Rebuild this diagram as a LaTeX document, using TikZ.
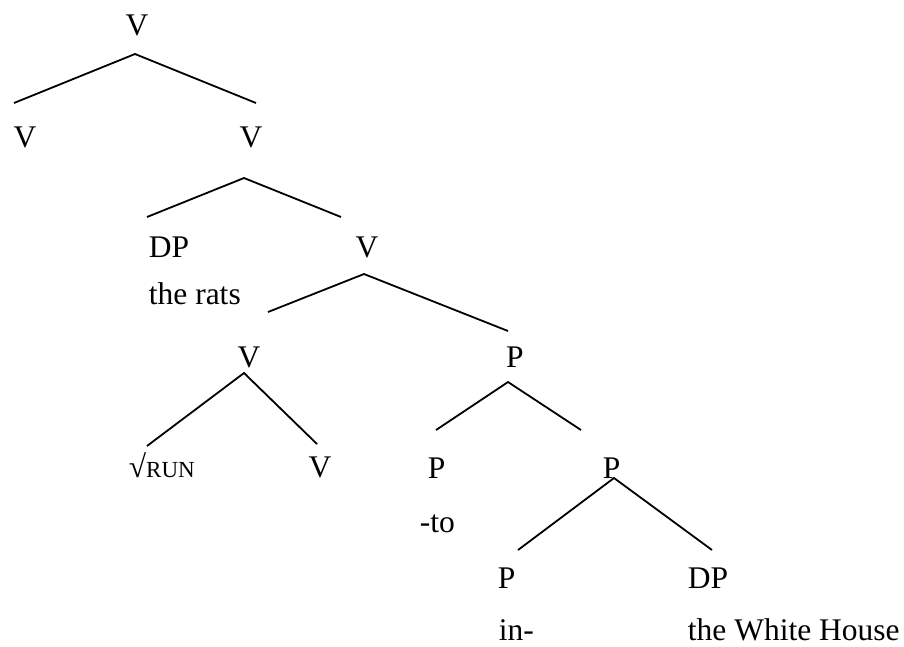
\documentclass[tikz,border=0pt]{standalone}
\usepackage{fontspec}
\setmainfont{Liberation Serif}
\usepackage{xcolor}
\definecolor{treeink}{HTML}{000000}

\begin{document}
\begin{tikzpicture}[x=1pt,y=-1pt,
  point/.style={coordinate},
  cat/.style={inner sep=0pt, anchor=base, text=treeink, font=\fontsize{31.5}{38}\selectfont},
  word/.style={cat, anchor=base west},
  every path/.style={draw=treeink, line width=1.8pt}]
\useasboundingbox[draw=none] (0,0) rectangle (904,646);
% labels
\node[cat]  (v0) at (137,35)   {V};
\node[cat]  (v1) at (25,147)   {V};
\node[cat]  (v2) at (251,147)  {V};
\node[word] (dp1) at (148,257) {DP};
\node[cat]  (v3) at (367,257)  {V};
\node[word] (rats) at (148,304) {the rats};
\node[cat]  (v4) at (249,367)  {V};
\node[cat]  (p1) at (515,367)  {P};
\node[word] (run) at (128,477) {√{\fontsize{23}{28}\selectfont RUN}};
\node[cat]  (v5) at (320,477)  {V};
\node[word] (p2) at (427,478)  {P};
\node[word] (p3) at (602,478)  {P};
\node[word] (to) at (419,532)  {-to};
\node[word] (p4) at (497,588)  {P};
\node[word] (dp2) at (687,588) {DP};
\node[word] (in) at (498,640)  {in-};
\node[word] (wh) at (687,640)  {the White House};
% branch points
\node[point] (0) at (135,54)  {};
\node[point] (1) at (14,103)  {};
\node[point] (2) at (256,103) {};
\node[point] (3) at (244,178) {};
\node[point] (4) at (147,217) {};
\node[point] (5) at (341,217) {};
\node[point] (6) at (364,274) {};
\node[point] (7) at (268,312) {};
\node[point] (8) at (508,331) {};
\node[point] (9) at (244,373) {};
\node[point] (10) at (147,446) {};
\node[point] (11) at (317,444) {};
\node[point] (12) at (508,382) {};
\node[point] (13) at (436,430) {};
\node[point] (14) at (581,430) {};
\node[point] (15) at (614,478) {};
\node[point] (16) at (518,550) {};
\node[point] (17) at (712,550) {};
\draw   (1) -- (0) -- (2);
\draw   (4) -- (3) -- (5);
\draw   (7) -- (6) -- (8);
\draw   (10) -- (9) -- (11);
\draw   (13) -- (12) -- (14);
\draw   (16) -- (15) -- (17);
\end{tikzpicture}
\end{document}
